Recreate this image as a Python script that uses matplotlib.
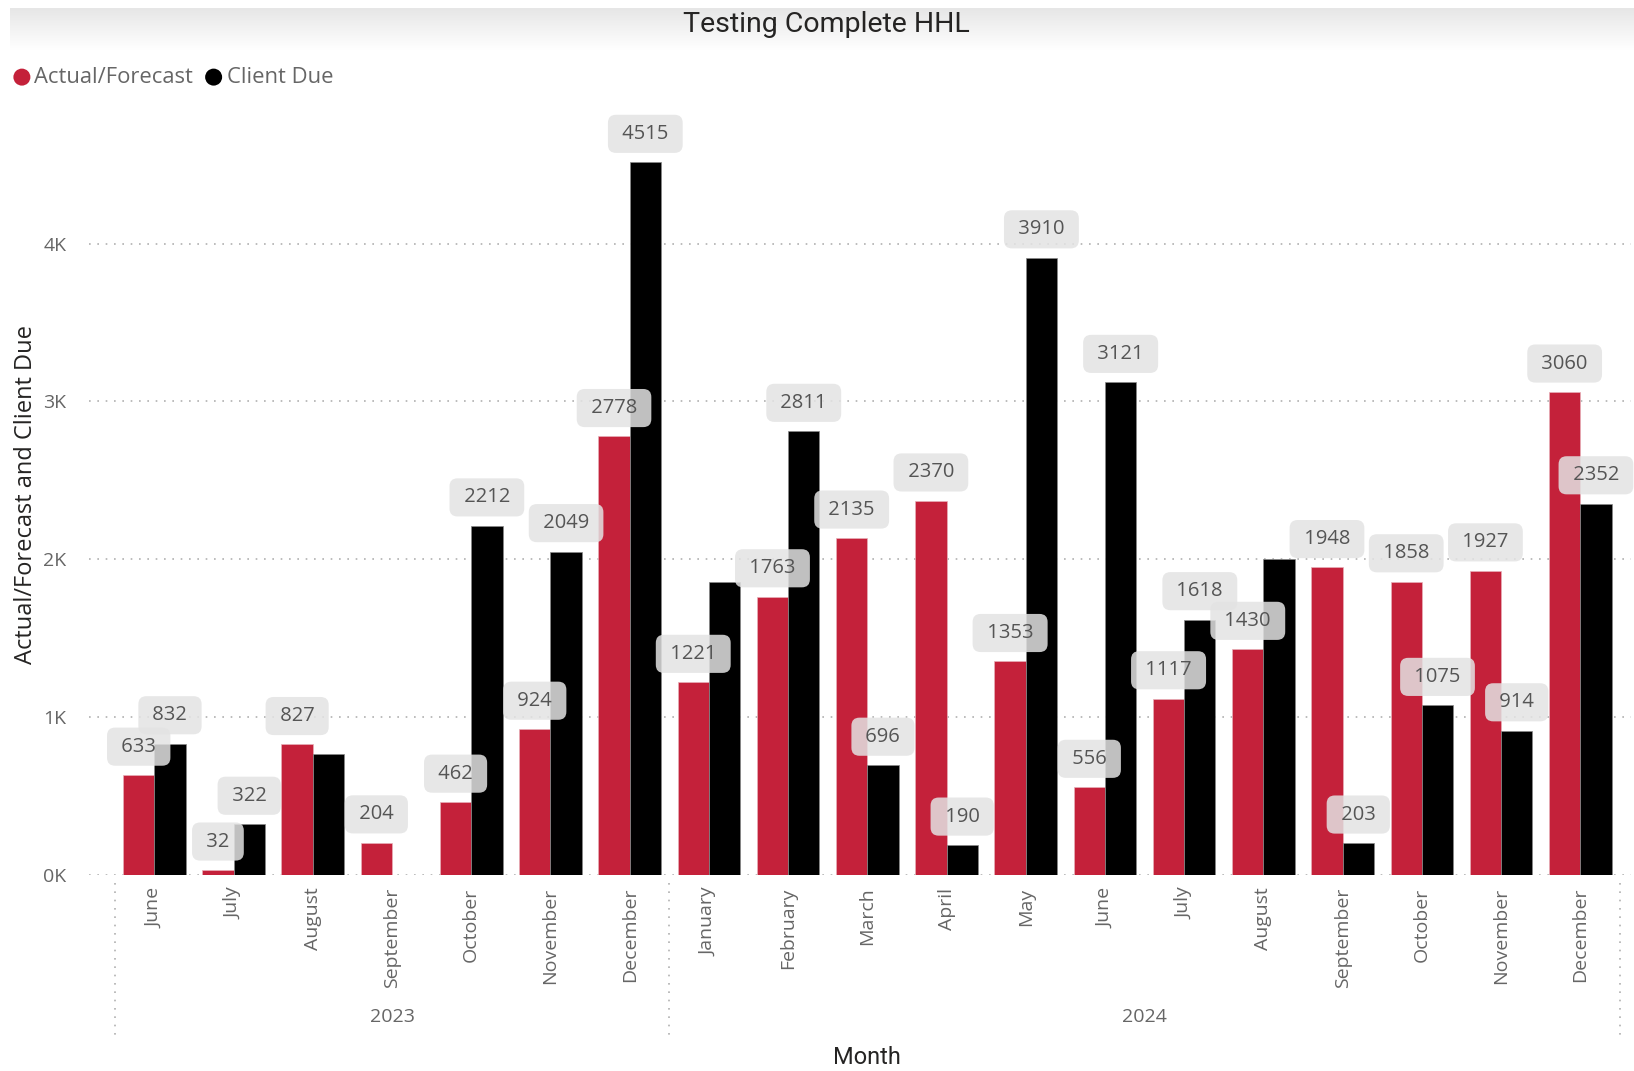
import matplotlib
matplotlib.use("Agg")
import matplotlib.pyplot as plt
import numpy as np
from matplotlib.patches import Ellipse
from matplotlib.transforms import blended_transform_factory

months = ["June", "July", "August", "September", "October", "November", "December",
          "January", "February", "March", "April", "May", "June", "July", "August",
          "September", "October", "November", "December"]
years = ["2023", "2024"]
year_counts = [7, 12]
actual = [633, 32, 827, 204, 462, 924, 2778, 1221, 1763, 2135, 2370, 1353, 556, 1117,
          1430, 1948, 1858, 1927, 3060]
client_due = [832, 322, 765, np.nan, 2212, 2049, 4515, 1855, 2811, 696, 190, 3910, 3121,
              1618, 2000, 203, 1075, 914, 2352]
# labels hidden by the reference chart (overlap)
client_label_hidden = [2, 7, 14]
yticks = [0, 1000, 2000, 3000, 4000]
ytick_labels = ["0K", "1K", "2K", "3K", "4K"]

RED = "#C4213A"
BLACK = "#000000"
GREY_TXT = "#666666"
FONT = "Open Sans"

plt.rcParams["font.family"] = [FONT, "DejaVu Sans"]

W, H = 1634, 1071
S = W / 1568  # display -> full scale
fig = plt.figure(figsize=(W / 100, H / 100), dpi=100)
fig.patch.set_facecolor("white")

# title band gradient
band = fig.add_axes([0.006, 1 - 50 / H, 0.994, 42 / H])
grad = np.linspace(0.9, 1.0, 64).reshape(-1, 1)
band.imshow(np.dstack([grad, grad, grad]), aspect="auto", extent=[0, 1, 0, 1])
band.axis("off")
fig.text(793 * S / W, 1 - 25 / H, "Testing Complete HHL", ha="center", va="center",
         fontsize=20.5, color="#252423", family=["Roboto", "DejaVu Sans"])

# legend
ly = 1 - 74 * S / H
r = 8.5
for cx, tx, lab, col in [(21, 33, "Actual/Forecast", RED), (205, 218, "Client Due", BLACK)]:
    fig.add_artist(Ellipse((cx * S / W, ly), width=2 * r / W, height=2 * r / H,
                           transform=fig.transFigure, facecolor=col, edgecolor="none"))
    fig.text(tx * S / W, ly, lab, ha="left", va="center", fontsize=15.8, color=GREY_TXT)

left, right = 88.6 / W, 1631 / W
bottom, top = 1 - 875 / H, 1 - 104 / H
ax = fig.add_axes([left, bottom, right - left, top - bottom])

x = np.arange(len(months))
bw = 0.395
ax.bar(x - bw / 2, actual, width=bw, color=RED, edgecolor="#e8b0b8", linewidth=0.5, zorder=2)
ax.bar(x + bw / 2, client_due, width=bw, color=BLACK, edgecolor="#888888", linewidth=0.5, zorder=2)

ax.set_ylim(0, 4884)
ax.set_xlim(-0.83, 18.64)
ax.set_yticks(yticks)
ax.set_yticklabels(ytick_labels, color=GREY_TXT, fontsize=14)
ax.tick_params(axis="y", length=0, pad=16)
ax.yaxis.grid(True, linestyle=(0, (1, 4)), color="#b0b0b0", linewidth=1.2, zorder=0)
ax.set_xticks(x)
ax.set_xticklabels(months, rotation=90, color=GREY_TXT, fontsize=14, va="top")
ax.tick_params(axis="x", length=0, pad=9)
for s in ax.spines.values():
    s.set_visible(False)

bbox = dict(boxstyle="round,pad=0.45,rounding_size=0.4", facecolor="#e3e3e3",
            edgecolor="none", alpha=0.85)
off = 180
for i, v in enumerate(actual):
    ax.text(x[i] - bw / 2, v + off, f" {v} ", ha="center", va="center", fontsize=14.5,
            color="#555555", bbox=bbox, zorder=3)
for i, v in enumerate(client_due):
    if np.isnan(v) or i in client_label_hidden:
        continue
    ax.text(x[i] + bw / 2, v + off, f" {int(v)} ", ha="center", va="center", fontsize=14.5,
            color="#555555", bbox=bbox, zorder=3)

# year level of axis
tr = blended_transform_factory(ax.transData, ax.transAxes)
start = -0.5
seps = [start]
for yr, n in zip(years, year_counts):
    mid = start + n / 2
    ax.text(mid, -0.184, yr, transform=tr, ha="center", va="center", fontsize=14,
            color=GREY_TXT, clip_on=False)
    start += n
    seps.append(start)
for sx in seps:
    ax.plot([sx, sx], [-0.01, -0.21], transform=tr, linestyle=(0, (1, 4)),
            color="#b0b0b0", linewidth=1.2, clip_on=False)

fig.text((832 * S) / W, 1 - 1057 / H, "Month", ha="center", va="center",
         fontsize=17, color="#252423", family=["Roboto", "DejaVu Sans"])
fig.text(26 / W, 1 - 495 / H, "Actual/Forecast and Client Due", ha="center", va="center",
         rotation=90, fontsize=17, color="#252423")

fig.savefig("out.png", dpi=100)
